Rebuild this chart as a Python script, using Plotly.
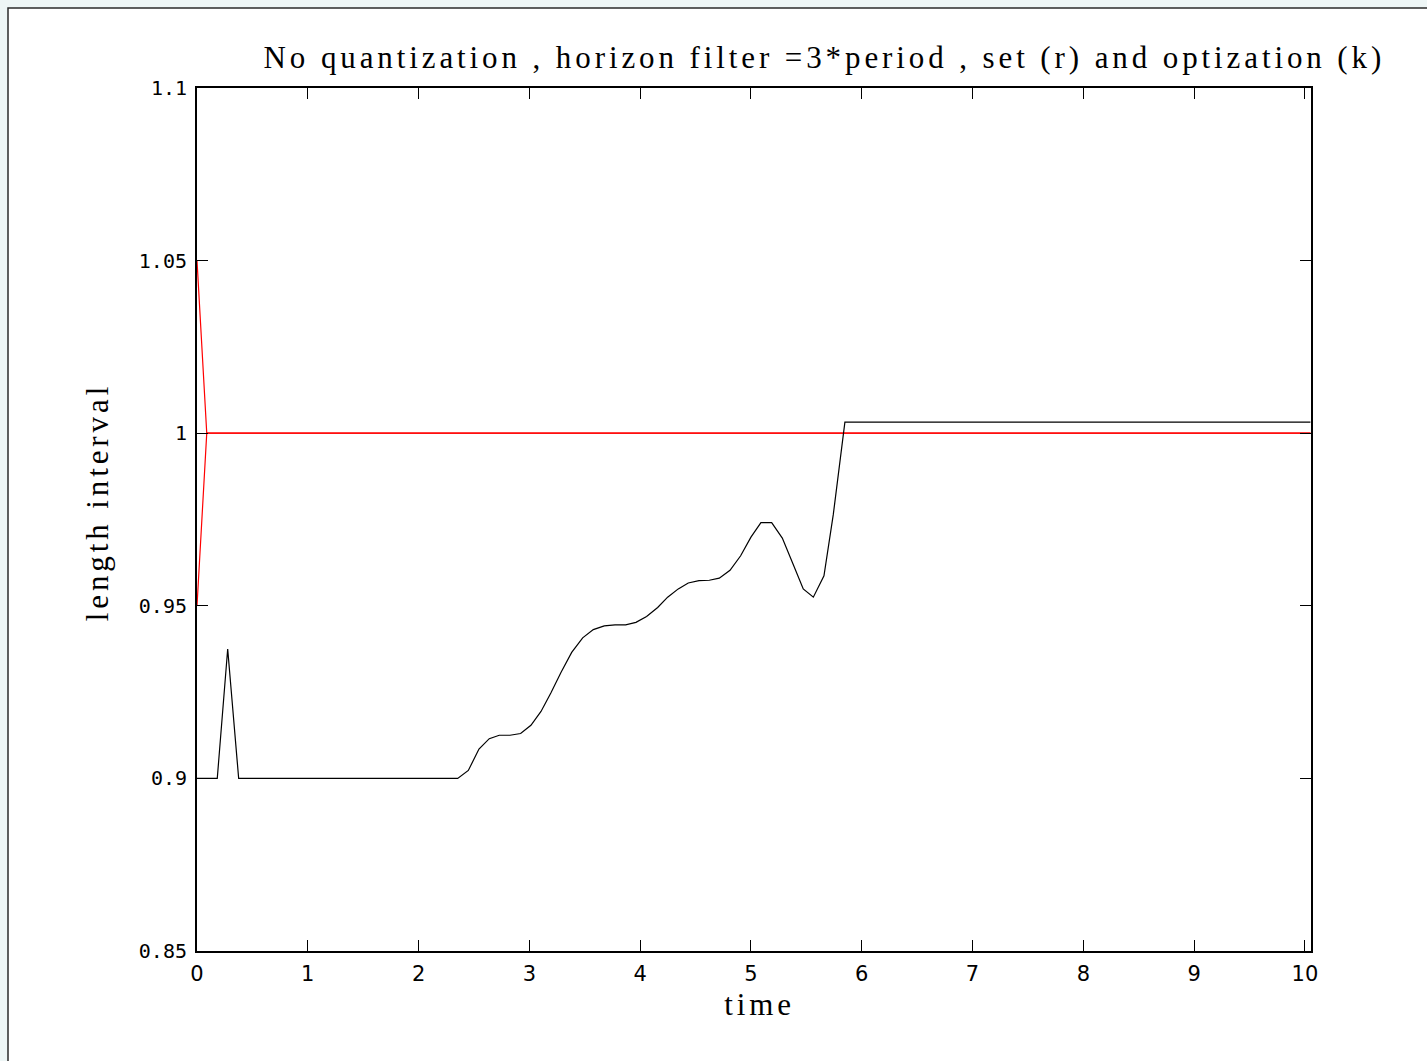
import plotly.graph_objects as go

# ---- data ----
time_k = [0.0, 0.183, 0.277, 0.376, 2.353, 2.449, 2.545, 2.638, 2.728, 2.825, 2.921,
          3.014, 3.105, 3.195, 3.285, 3.382, 3.481, 3.577, 3.676, 3.773, 3.869,
          3.962, 4.058, 4.158, 4.248, 4.344, 4.434, 4.531, 4.624, 4.714, 4.811,
          4.907, 5.0, 5.090, 5.187, 5.283, 5.376, 5.472, 5.563, 5.659, 5.743,
          5.848, 10.05]
length_k = [0.9, 0.9, 0.9375, 0.9, 0.9, 0.9023, 0.9085, 0.9115, 0.9125, 0.9125, 0.913,
            0.9154, 0.9194, 0.9248, 0.9307, 0.9365, 0.9407, 0.9431, 0.9442, 0.9445, 0.9445,
            0.9452, 0.9469, 0.9495, 0.9525, 0.9549, 0.9566, 0.9573, 0.9574, 0.958, 0.9603,
            0.9645, 0.9699, 0.9741, 0.9741, 0.9696, 0.9624, 0.9549, 0.9525, 0.9587, 0.9764,
            1.0032, 1.0032]

time_r = [0.0, 0.088, 10.05]
upper_r = [1.05, 1.0, 1.0]
lower_r = [0.95, 1.0, 1.0]

x_ticks = [0, 1, 2, 3, 4, 5, 6, 7, 8, 9, 10]
y_ticks = [0.85, 0.9, 0.95, 1.0, 1.05, 1.1]
y_tick_text = ["0.85", "0.9", "0.95", "1", "1.05", "1.1"]

title_text = "No quantization , horizon filter =3*period , set (r) and optization (k)"
x_title = "time"
y_title = "length interval"

# ---- layout geometry (pixels) ----
W, H = 1427, 1061
L, R, T, B = 197, 1311, 88, 951
pw, ph = R - L, B - T


def px(x):
    return (x - L) / pw


def py(y):
    return (B - y) / ph


fig = go.Figure()
fig.add_trace(go.Scatter(x=time_r, y=upper_r, mode="lines",
                         line=dict(color="#ff0000", width=1.2), showlegend=False))
fig.add_trace(go.Scatter(x=time_r, y=lower_r, mode="lines",
                         line=dict(color="#ff0000", width=1.2), showlegend=False))
fig.add_trace(go.Scatter(x=time_k, y=length_k, mode="lines",
                         line=dict(color="#000000", width=1.2), showlegend=False))

serif = "Liberation Serif, DejaVu Serif, serif"

fig.update_layout(
    width=W, height=H,
    margin=dict(l=L, r=W - R, t=T, b=H - B, pad=0),
    paper_bgcolor="#eef6f6",
    plot_bgcolor="#ffffff",
    showlegend=False,
    xaxis=dict(range=[0, 10.055], tickvals=x_ticks, ticks="inside", ticklen=11,
               tickwidth=1, tickcolor="#000", showline=True, linewidth=2,
               linecolor="#000", mirror="ticks", showgrid=False, zeroline=False,
               ticklabelstandoff=3,
               tickfont=dict(family="DejaVu Sans", size=21, color="#000")),
    yaxis=dict(range=[0.85, 1.1], tickvals=y_ticks, ticktext=y_tick_text,
               ticks="inside", ticklen=11, tickwidth=1, tickcolor="#000",
               showline=True, linewidth=2, linecolor="#000", mirror="ticks",
               showgrid=False, zeroline=False, ticklabelstandoff=4,
               tickfont=dict(family="DejaVu Sans Mono", size=20, color="#000")),
    shapes=[dict(type="rect", xref="paper", yref="paper", layer="below",
                 x0=px(8), x1=px(W + 20), y0=py(H + 20), y1=py(8),
                 fillcolor="#ffffff", line=dict(color="#2b2b2b", width=1.5))],
    annotations=[
        dict(text=title_text, xref="paper", yref="paper", x=px(824), y=py(58),
             xanchor="center", yanchor="middle", showarrow=False,
             font=dict(family=serif, size=31, color="#000")),
        dict(text=x_title, xref="paper", yref="paper", x=px(759), y=py(1004),
             xanchor="center", yanchor="middle", showarrow=False,
             font=dict(family=serif, size=31, color="#000")),
        dict(text=y_title, xref="paper", yref="paper", x=px(98), y=py(502),
             xanchor="center", yanchor="middle", showarrow=False, textangle=-90,
             font=dict(family=serif, size=31, color="#000")),
    ],
)

post = """
document.documentElement.style.margin='0';
document.body.style.margin='0';
document.body.style.background='#eef6f6';
document.querySelectorAll('.annotation-text').forEach(function(e){
  e.style.letterSpacing='3.9px';
});
"""
fig.write_html("out.html", post_script=post, config={"displayModeBar": False})
